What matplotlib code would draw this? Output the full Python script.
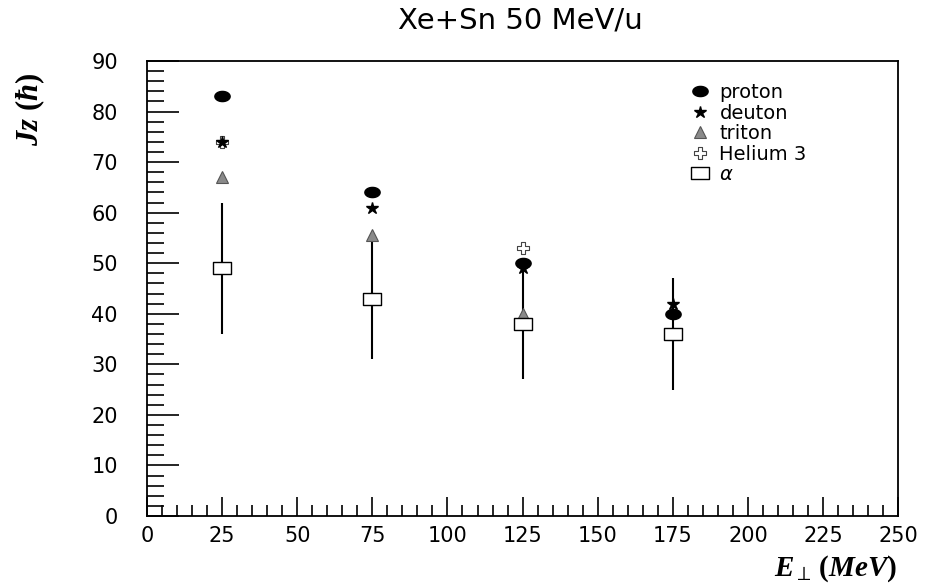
import numpy as np
import matplotlib
matplotlib.use("Agg")
import matplotlib.pyplot as plt
from matplotlib.path import Path
from matplotlib.ticker import MultipleLocator

plt.rcParams['mathtext.fontset'] = 'custom'
plt.rcParams['mathtext.it'] = 'Liberation Serif:italic:bold'
plt.rcParams['mathtext.rm'] = 'Liberation Serif:bold'
plt.rcParams['mathtext.bf'] = 'Liberation Serif:italic:bold'

# Data
energy = [25, 75, 125, 175]
proton = [83, 64, 50, 40]
deuton = [74, 61, 49, 42]
triton = [67, 55.5, 40, 36]
helium3 = [74, 43, 53, 36]
alpha = [49, 43, 38, 36]
alpha_low = [36, 31, 27, 25]
alpha_high = [62, 56, 49, 47]

labels = ["proton", "deuton", "triton", "Helium 3", "α"]

fig = plt.figure(figsize=(9.32, 5.83), dpi=100)
ax = fig.add_axes([0.1577, 0.115, 0.806, 0.7804])

# custom markers
t = np.linspace(0, 2 * np.pi, 40)
ellipse = Path(np.column_stack([1.5 * np.cos(t), np.sin(t)]), closed=True)
rect = Path([(-1.5, -1), (1.5, -1), (1.5, 1), (-1.5, 1), (-1.5, -1)],
            [Path.MOVETO, Path.LINETO, Path.LINETO, Path.LINETO, Path.CLOSEPOLY])
cross = Path([(-1, -0.35), (-0.35, -0.35), (-0.35, -1), (0.35, -1), (0.35, -0.35),
              (1, -0.35), (1, 0.35), (0.35, 0.35), (0.35, 1), (-0.35, 1),
              (-0.35, 0.35), (-1, 0.35), (-1, -0.35)], closed=True)

lo = np.array(alpha) - np.array(alpha_low)
hi = np.array(alpha_high) - np.array(alpha)
ax.errorbar(energy, alpha, yerr=[lo, hi], fmt='none', ecolor='black',
            elinewidth=1.5, capsize=0, zorder=1)

h_h, = ax.plot(energy, helium3, ls='none', marker=cross, ms=9,
               mfc='white', mec='#444444', mew=0.8, zorder=2)
h_t, = ax.plot(energy, triton, ls='none', marker='^', ms=8,
               mfc='#8a8a8a', mec='#555555', mew=0.8, zorder=3)
h_a, = ax.plot(energy, alpha, ls='none', marker=rect, ms=13,
               mfc='white', mec='black', mew=1.0, zorder=3)
h_p, = ax.plot(energy, proton, ls='none', marker=ellipse, ms=11,
               mfc='black', mec='black', zorder=4)
h_d, = ax.plot(energy, deuton, ls='none', marker='*', ms=9,
               mfc='black', mec='black', zorder=5)

ax.set_xlim(0, 250)
ax.set_ylim(0, 90)
ax.xaxis.set_major_locator(MultipleLocator(25))
ax.xaxis.set_minor_locator(MultipleLocator(5))
ax.yaxis.set_major_locator(MultipleLocator(10))
ax.yaxis.set_minor_locator(MultipleLocator(2))
ax.tick_params(axis='x', which='major', direction='in', length=14, width=1.2,
               labelsize=15, pad=7)
ax.tick_params(axis='x', which='minor', direction='in', length=8, width=1.2)
ax.tick_params(axis='y', which='major', direction='in', length=23, width=1.2,
               labelsize=15, pad=21)
ax.tick_params(axis='y', which='minor', direction='in', length=12, width=1.2)
for s in ax.spines.values():
    s.set_linewidth(1.3)

fig.text(0.558, 0.965, "Xe+Sn 50 MeV/u", ha='center', va='center', fontsize=21)

fig.text(0.963, 0.025, r"$E_{\perp}\,(MeV)$", ha='right', va='center',
         fontsize=21)
fig.text(0.032, 0.812, r"$Jz\ (\hbar)$", ha='center', va='center', rotation=90,
         fontsize=22)

leg = ax.legend([h_p, h_d, h_t, h_h, h_a], labels, loc='upper left',
                bbox_to_anchor=(0.7, 0.99), frameon=False, fontsize=14,
                handlelength=1.0, handletextpad=0.5, labelspacing=0.08,
                markerscale=1.0)
leg.get_texts()[4].set_style('italic')

fig.savefig("out.png", dpi=100)
